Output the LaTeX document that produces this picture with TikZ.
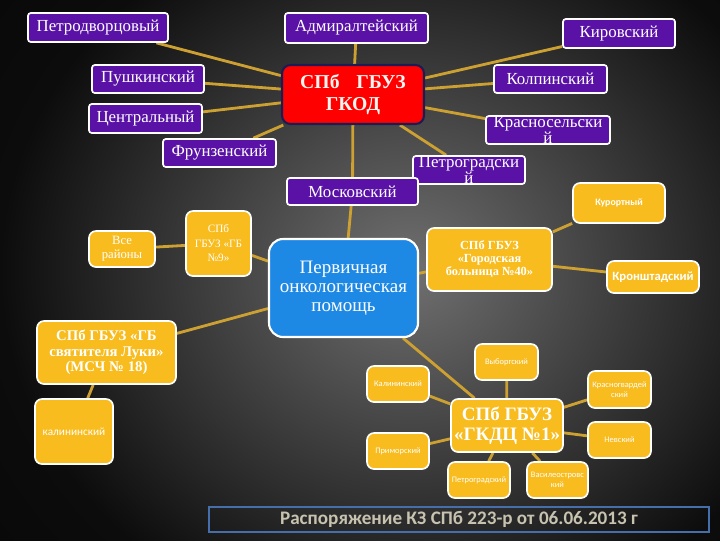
\documentclass[tikz,border=0pt]{standalone}
\usepackage{fontspec}
\setmainfont{Liberation Serif}
\newfontfamily\calibrifont{Carlito}
\definecolor{distpurple}{RGB}{90,18,166}
\definecolor{hubred}{RGB}{255,0,0}
\definecolor{hubnavy}{RGB}{28,28,84}
\definecolor{hubtext}{RGB}{255,245,240}
\definecolor{onkoblue}{RGB}{30,136,229}
\definecolor{clinicgold}{RGB}{248,188,30}
\definecolor{linkgold}{RGB}{205,160,50}
\definecolor{bgmid}{RGB}{112,112,112}
\definecolor{bgedge}{RGB}{12,12,12}
\definecolor{bannerblue}{RGB}{70,110,170}
\definecolor{bannertext}{RGB}{200,195,176}
\usetikzlibrary{backgrounds}
\pgfdeclarelayer{links}
\pgfsetlayers{background,links,main}
\pgfdeclareradialshading{slidebg}{\pgfpoint{0bp}{0bp}}{color(0bp)=(bgmid); color(25bp)=(bgedge); color(50bp)=(black)}

\begin{document}
\begin{tikzpicture}[
    x=0.025cm, y=-0.025cm,
    boxsize/.style 2 args={minimum width=#1*0.025cm, minimum height=#2*0.025cm},
    district/.style={draw=white, line width=1.2pt, fill=distpurple, rounded corners=2pt,
      text=white, font=\fontsize{12}{10}\selectfont, inner sep=0pt, align=center},
    hub/.style={draw=hubnavy, line width=1.5pt, fill=hubred, rounded corners=6pt,
      text=hubtext, font=\bfseries\fontsize{14}{16}\selectfont, inner sep=0pt, align=center},
    onko/.style={draw=white, line width=1.5pt, fill=onkoblue, rounded corners=10pt,
      text=white, font=\fontsize{13.5}{13.5}\selectfont, inner sep=0pt, align=center},
    clinic/.style={draw=white, line width=1.2pt, fill=clinicgold, rounded corners=5pt,
      text=white, inner sep=0pt, align=center},
    smallprint/.style={font=\calibrifont\fontsize{6}{7.5}\selectfont},
    link/.style={linkgold, line width=2pt},
  ]
    \useasboundingbox (0,0) rectangle (720,540);
    \begin{scope}[on background layer]
      \clip (0,0) rectangle (720,540);
      \shade[shading=slidebg] (0,-100) rectangle (820,640);
    \end{scope}

    \node[hub, boxsize={142}{59}] (gkod) at (353,94.5) {СПб\hspace{0.85em}ГБУЗ\\ГКОД};
    \node[district, boxsize={140}{29}] (petrodv) at (98,27.5) {Петродворцовый};
    \node[district, boxsize={143}{30}] (admir) at (356.5,28) {Адмиралтейский};
    \node[district, boxsize={112}{29}] (kirov) at (619,33.5) {Кировский};
    \node[district, boxsize={112}{28}] (pushk) at (148,79) {Пушкинский};
    \node[district, boxsize={113}{28}] (kolp) at (550.5,79) {Колпинский};
    \node[district, boxsize={113}{29}] (centr) at (145.5,118.5) {Центральный};
    \node[district, boxsize={124}{28}] (krasnos) at (548,130) {Красносельски\\й};
    \node[district, boxsize={113}{28}] (frunz) at (219.5,153) {Фрунзенский};
    \node[district, boxsize={112}{28}] (petrogr) at (469,170) {Петроградски\\й};
    \node[district, boxsize={131}{27}] (moskov) at (352.5,191.5) {Московский};

    \node[onko, boxsize={149}{98}] (onko) at (343.5,288) {Первичная\\онкологическая\\помощь};
    \node[clinic, boxsize={66}{36}, font=\fontsize{9}{10}\selectfont] (allreg) at (122,249) {Все\\районы};
    \node[clinic, boxsize={65}{65}, font=\fontsize{8}{10.3}\selectfont] (gb9) at (218.5,243.5) {СПб\\ГБУЗ «ГБ\\№9»};
    \node[clinic, boxsize={125}{63}, font=\bfseries\fontsize{8.8}{9.3}\selectfont] (gb40) at (489.5,259.5) {СПб ГБУЗ\\«Городская\\больница №40»};
    \node[clinic, boxsize={92}{40}, font=\calibrifont\bfseries\fontsize{7}{8}\selectfont] (kurort) at (619,203) {Курортный};
    \node[clinic, boxsize={92}{32}, font=\calibrifont\bfseries\fontsize{9}{10}\selectfont] (kronsht) at (653,277) {Кронштадский};
    \node[clinic, boxsize={139}{63}, font=\bfseries\fontsize{10.5}{11}\selectfont] (luki) at (106.5,352.5) {СПб ГБУЗ «ГБ\\святителя Луки»\\(МСЧ № 18)};
    \node[clinic, boxsize={78}{65}, font=\calibrifont\fontsize{8}{9.5}\selectfont] (kalin) at (74,431.5) {калининский};

    \node[clinic, boxsize={112}{53}, font=\bfseries\fontsize{13.5}{14.5}\selectfont] (gkdc) at (507,425.5) {СПб ГБУЗ\\«ГКДЦ №1»};
    \node[clinic, smallprint, boxsize={63}{36}] (vyborg) at (506.5,362) {Выборгский};
    \node[clinic, smallprint, boxsize={62}{36}] (kalin2) at (398,384) {Калининский};
    \node[clinic, smallprint, boxsize={63}{37}] (krasngv) at (619.5,389.5) {Красногвардей\\ский};
    \node[clinic, smallprint, boxsize={62}{36}] (primor) at (398,451) {Приморский};
    \node[clinic, smallprint, boxsize={63}{36}] (nevsky) at (619.5,440) {Невский};
    \node[clinic, smallprint, boxsize={62}{36}] (petrogr2) at (479,480) {Петроградский};
    \node[clinic, smallprint, boxsize={61}{36}] (vasil) at (557.5,480) {Василеостровс\\кий};

    \node[draw=bannerblue, line width=0.8pt, boxsize={500}{25}, inner sep=0pt, text=bannertext,
      font=\calibrifont\bfseries\fontsize{13.6}{15}\selectfont] (order) at (459,519.5) {Распоряжение КЗ СПб 223-р от 06.06.2013 г};

    \begin{pgfonlayer}{links}
    \draw[link] (gkod) -- (petrodv);
    \draw[link] (gkod) -- (admir);
    \draw[link] (gkod) -- (kirov);
    \draw[link] (gkod) -- (pushk);
    \draw[link] (gkod) -- (kolp);
    \draw[link] (gkod) -- (centr);
    \draw[link] (gkod) -- (krasnos);
    \draw[link] (gkod) -- (frunz);
    \draw[link] (gkod) -- (petrogr);
    \draw[link] (gkod) -- (moskov);
    \draw[link] (moskov) -- (onko);
    \draw[link] (onko) -- (gb9);
    \draw[link] (gb9) -- (allreg);
    \draw[link] (onko) -- (luki);
    \draw[link] (luki) -- (kalin);
    \draw[link] (onko) -- (gb40);
    \draw[link] (gb40) -- (kurort);
    \draw[link] (gb40) -- (kronsht);
    \draw[link] (onko) -- (gkdc);
    \draw[link] (gkdc) -- (vyborg);
    \draw[link] (gkdc) -- (kalin2);
    \draw[link] (gkdc) -- (krasngv);
    \draw[link] (gkdc) -- (primor);
    \draw[link] (gkdc) -- (nevsky);
    \draw[link] (gkdc) -- (petrogr2);
    \draw[link] (gkdc) -- (vasil);
    \end{pgfonlayer}
  \end{tikzpicture}
\end{document}
